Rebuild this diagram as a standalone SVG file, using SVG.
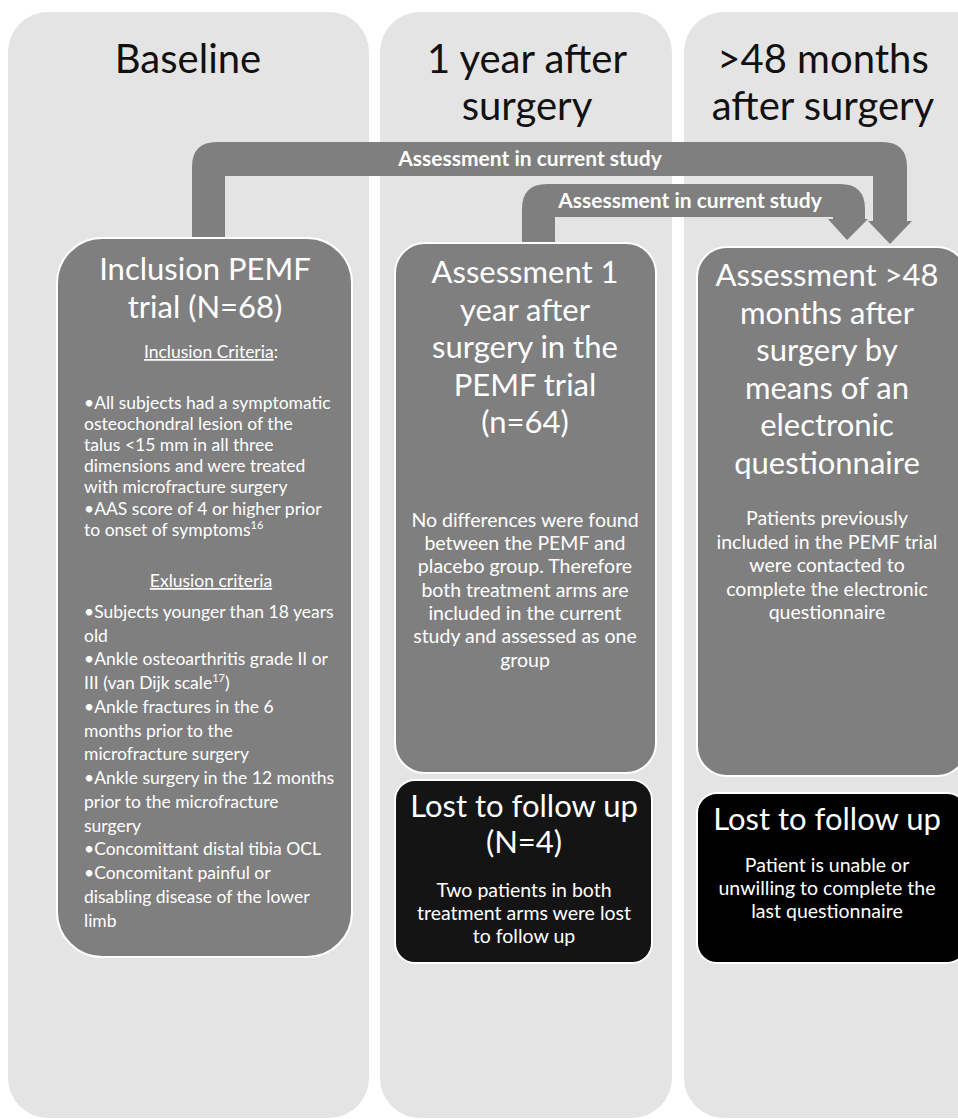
<svg xmlns="http://www.w3.org/2000/svg" width="958" height="1119" viewBox="0 0 958 1119">
<style>
text{font-family:Lato,"Open Sans","Liberation Sans",sans-serif;fill:#fff;}
.hdr{font-size:40px;fill:#111;text-anchor:middle;}
.ttl{font-size:31px;text-anchor:middle;}
.body{font-size:17.5px;}
.body2{font-size:19.5px;text-anchor:middle;}
.mid{text-anchor:middle;}
.lbl{font-size:21px;font-weight:bold;text-anchor:middle;}
.col{fill:#e4e4e4;}
.node{fill:#7f7f7f;stroke:#fff;stroke-width:2;}
.lost2{fill:#141414;stroke:#fff;stroke-width:2;}
.lost3{fill:#000;stroke:#fff;stroke-width:2;}
.arrow{fill:#7f7f7f;}
</style>
<rect width="958" height="1119" fill="#fff"/>
<g id="columns">
<rect class="col" x="8" y="12" width="361" height="1106" rx="40" ry="40"/>
<rect class="col" x="380" y="12" width="292" height="1106" rx="40" ry="40"/>
<rect class="col" x="684" y="12" width="310" height="1106" rx="40" ry="40"/>
<text class="hdr" x="188" y="73">Baseline</text>
<text class="hdr" x="527" y="73">1 year after</text>
<text class="hdr" x="527" y="120">surgery</text>
<text class="hdr" x="823" y="73">&gt;48 months</text>
<text class="hdr" x="823" y="120">after surgery</text>
</g>
<g id="connectors">
<path class="arrow" d="M192 240 L192 167 Q192 142 217 142 L882 142 Q907 142 907 167 L907 221 L912 221 L890 244 L868 221 L873 221 L873 176 L225 176 L225 240 Z"/>
<text class="lbl" x="530" y="166">Assessment in current study</text>
<path class="arrow" d="M522 243 L522 209 Q522 184 547 184 L840 184 Q865 184 865 209 L865 219 L868 219 L847 240 L828 219 L833 219 L833 217 L555 217 L555 243 Z"/>
<text class="lbl" x="690" y="208">Assessment in current study</text>
</g>
<g id="inclusion">
<rect class="node" x="57" y="238" width="295" height="719" rx="45" ry="45"/>
<text class="ttl" x="205" y="280">Inclusion PEMF</text>
<text class="ttl" x="205" y="318">trial (N=68)</text>
<text class="body mid" x="211" y="358"><tspan text-decoration="underline">Inclusion Criteria</tspan>:</text>
<text class="body" x="84" y="409">•All subjects had a symptomatic</text>
<text class="body" x="84" y="430">osteochondral lesion of the</text>
<text class="body" x="84" y="451">talus &lt;15 mm in all three</text>
<text class="body" x="84" y="472">dimensions and were treated</text>
<text class="body" x="84" y="493">with microfracture surgery</text>
<text class="body" x="84" y="515">•AAS score of 4 or higher prior</text>
<text class="body" x="84" y="536">to onset of symptoms<tspan dy="-7" font-size="11">16</tspan></text>
<text class="body mid" x="211" y="587" text-decoration="underline">Exlusion criteria</text>
<text class="body" x="84" y="618">•Subjects younger than 18 years</text>
<text class="body" x="84" y="642">old</text>
<text class="body" x="84" y="665">•Ankle osteoarthritis grade II or</text>
<text class="body" x="84" y="689">III (van Dijk scale<tspan dy="-7" font-size="11">17</tspan><tspan dy="7">)</tspan></text>
<text class="body" x="84" y="713">•Ankle fractures in the 6</text>
<text class="body" x="84" y="737">months prior to the</text>
<text class="body" x="84" y="760">microfracture surgery</text>
<text class="body" x="84" y="784">•Ankle surgery in the 12 months</text>
<text class="body" x="84" y="808">prior to the microfracture</text>
<text class="body" x="84" y="832">surgery</text>
<text class="body" x="84" y="855">•Concomittant distal tibia OCL</text>
<text class="body" x="84" y="879">•Concomitant painful or</text>
<text class="body" x="84" y="903">disabling disease of the lower</text>
<text class="body" x="84" y="927">limb</text>
</g>
<g id="assess1">
<rect class="node" x="395" y="243" width="261" height="530" rx="30" ry="30"/>
<text class="ttl" x="525" y="283">Assessment 1</text>
<text class="ttl" x="525" y="320.5">year after</text>
<text class="ttl" x="525" y="358">surgery in the</text>
<text class="ttl" x="525" y="395.5">PEMF trial</text>
<text class="ttl" x="525" y="433">(n=64)</text>
<text class="body2" x="525" y="527">No differences were found</text>
<text class="body2" x="525" y="550">between the PEMF and</text>
<text class="body2" x="525" y="573">placebo group. Therefore</text>
<text class="body2" x="525" y="597">both treatment arms are</text>
<text class="body2" x="525" y="620">included in the current</text>
<text class="body2" x="525" y="643">study and assessed as one</text>
<text class="body2" x="525" y="667">group</text>
</g>
<g id="lost1">
<rect class="lost2" x="395" y="780" width="257" height="183" rx="20" ry="20"/>
<text class="ttl" x="524" y="817">Lost to follow up</text>
<text class="ttl" x="524" y="853">(N=4)</text>
<text class="body2" x="524" y="897">Two patients in both</text>
<text class="body2" x="524" y="920">treatment arms were lost</text>
<text class="body2" x="524" y="943">to follow up</text>
</g>
<g id="assess48">
<rect class="node" x="697" y="247" width="270" height="529" rx="30" ry="30"/>
<text class="ttl" x="827" y="286">Assessment &gt;48</text>
<text class="ttl" x="827" y="323.5">months after</text>
<text class="ttl" x="827" y="361">surgery by</text>
<text class="ttl" x="827" y="398.5">means of an</text>
<text class="ttl" x="827" y="436">electronic</text>
<text class="ttl" x="827" y="473.5">questionnaire</text>
<text class="body2" x="827" y="525">Patients previously</text>
<text class="body2" x="827" y="548.5">included in the PEMF trial</text>
<text class="body2" x="827" y="572">were contacted to</text>
<text class="body2" x="827" y="595.5">complete the electronic</text>
<text class="body2" x="827" y="619">questionnaire</text>
</g>
<g id="lost2">
<rect class="lost3" x="697" y="793" width="270" height="170" rx="20" ry="20"/>
<text class="ttl" x="827" y="830">Lost to follow up</text>
<text class="body2" x="827" y="872">Patient is unable or</text>
<text class="body2" x="827" y="895">unwilling to complete the</text>
<text class="body2" x="827" y="918">last questionnaire</text>
</g>
</svg>
